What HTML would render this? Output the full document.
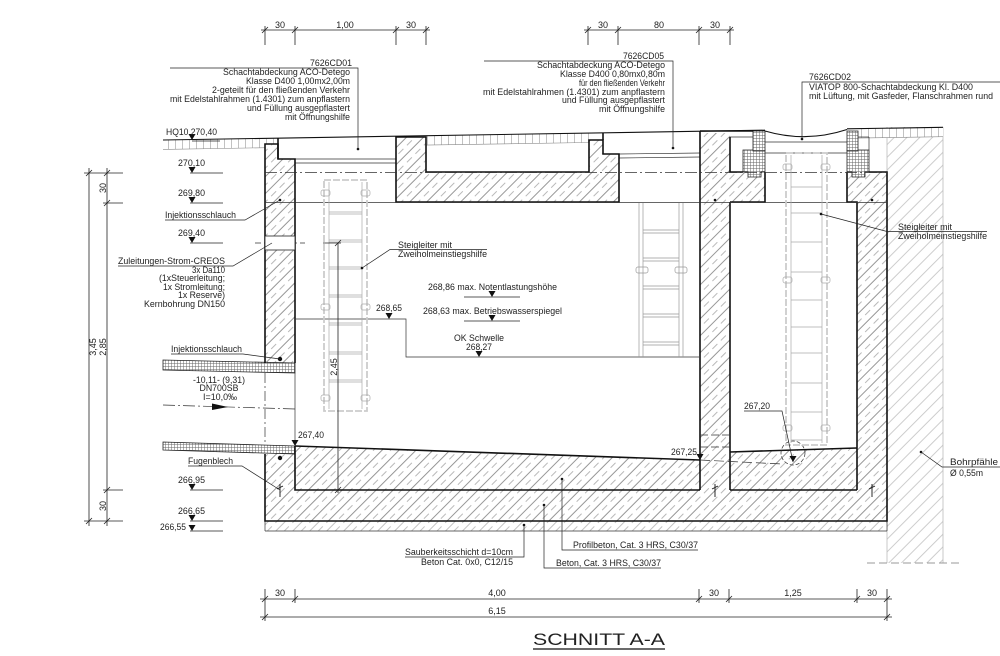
<!DOCTYPE html>
<html><head><meta charset="utf-8"><title>Schnitt A-A</title>
<style>
html,body{margin:0;padding:0;background:#fff;}
svg{display:block;}
text{font-family:"Liberation Sans",Arial,sans-serif;font-size:8.8px;fill:#222;}
.d{font-size:9px;}
</style></head><body>
<svg width="1000" height="656" viewBox="0 0 1000 656" xmlns="http://www.w3.org/2000/svg">
<defs>
<pattern id="hc" width="12" height="12" patternUnits="userSpaceOnUse" patternTransform="rotate(45)">
<rect width="12" height="12" fill="#fff"/>
<line x1="0.5" y1="0" x2="0.5" y2="12" stroke="#6a6a6a" stroke-width="0.7"/>
<line x1="6.5" y1="0" x2="6.5" y2="12" stroke="#8a8a8a" stroke-width="0.6" stroke-dasharray="7,5"/>
</pattern>
<pattern id="hl" width="12" height="12" patternUnits="userSpaceOnUse" patternTransform="rotate(45)">
<rect width="12" height="12" fill="#fff"/>
<line x1="0.5" y1="0" x2="0.5" y2="12" stroke="#9a9a9a" stroke-width="0.6" stroke-dasharray="7,5"/>
<line x1="6.5" y1="0" x2="6.5" y2="12" stroke="#9a9a9a" stroke-width="0.6"/>
</pattern>
<pattern id="hp" width="9" height="9" patternUnits="userSpaceOnUse" patternTransform="rotate(45)">
<rect width="9" height="9" fill="#fff"/>
<line x1="0.5" y1="0" x2="0.5" y2="9" stroke="#b8b8b8" stroke-width="0.7"/>
</pattern>
<pattern id="hx" width="3" height="3" patternUnits="userSpaceOnUse">
<rect width="3" height="3" fill="#fff"/>
<line x1="0.25" y1="0" x2="0.25" y2="3" stroke="#666" stroke-width="0.5"/>
<line x1="0" y1="0.25" x2="3" y2="0.25" stroke="#666" stroke-width="0.5"/>
</pattern>
<pattern id="pv" width="7" height="30" patternUnits="userSpaceOnUse">
<rect width="7" height="30" fill="#fff"/>
<line x1="0.5" y1="0" x2="0.5" y2="30" stroke="#9a9a9a" stroke-width="0.6"/>
</pattern>
</defs>
<rect width="1000" height="656" fill="#fff"/>

<!-- Bohrpfaehle -->
<rect x="887" y="127" width="56" height="436" fill="url(#hp)"/>
<line x1="887" y1="127" x2="887" y2="563" stroke="#bbb" stroke-width="0.8"/>
<line x1="943" y1="127" x2="943" y2="563" stroke="#bbb" stroke-width="0.8"/>
<line x1="867" y1="563" x2="963" y2="563" stroke="#999" stroke-width="0.9" stroke-dasharray="8,4"/>

<!-- paving bands -->
<polygon points="163,140 278,138.1 278,147.5 163,149.4" fill="url(#pv)"/>
<polygon points="426,135.7 589,133.1 589,142.5 426,145.1" fill="url(#pv)"/>
<polygon points="858,128.7 943,127.3 943,136.7 858,138.1" fill="url(#pv)"/>
<g stroke="#888" stroke-width="0.6" fill="none">
<line x1="163" y1="149.4" x2="278" y2="147.5"/>
<line x1="426" y1="145.1" x2="589" y2="142.5"/>
<line x1="858" y1="138.1" x2="943" y2="136.7"/>
</g>

<!-- concrete -->
<g fill="url(#hc)">
<polygon points="265,144 278,144 278,159 295,159 295,363 265,363"/>
<polygon points="265,446 295,446 700,460 700,521 265,521"/>
<polygon points="700,133 730,133 730,521 700,521"/>
<polygon points="730,452 857,448 857,521 730,521"/>
<polygon points="857,172 887,172 887,521 857,521"/>
<polygon points="730,172 765,172 765,202 730,202"/>
<polygon points="847,172 857,172 857,202 847,202"/>
<polygon points="396,137 426,137 426,172 589,172 589,140 603,140 603,154 619,154 619,202 396,202"/>
</g>
<rect x="265" y="521" width="622" height="10" fill="url(#hl)"/>

<!-- crosshatch frames & pipe -->
<g fill="url(#hx)" stroke="#222" stroke-width="0.8">
<polygon points="743,150 765,150 765,172 761,172 761,177 748,177 748,172 743,172"/>
<polygon points="753,131 765,131 765,151 753,151"/>
<polygon points="847,150 869,150 869,172 865,172 865,177 852,177 852,172 847,172"/>
<polygon points="847,131 858,131 858,151 847,151"/>
<polygon points="163,360 295,363 295,373 163,370"/>
<polygon points="163,442 295,446 295,454 163,450"/>
</g>

<!-- ground line & covers -->
<g stroke="#111" stroke-width="1.1" fill="none">
<polyline points="163,140 765,130.2"/>
<path d="M765,131 Q806,143 847,129.5"/>
<polyline points="847,128.8 943,127.3"/>
</g>
<g stroke="#333" stroke-width="0.7" fill="none">
<line x1="278" y1="159" x2="396" y2="159"/>
<line x1="295" y1="163" x2="396" y2="163"/>
<line x1="619" y1="154" x2="700" y2="153"/>
<line x1="619" y1="158" x2="700" y2="157"/>
<line x1="765" y1="142" x2="847" y2="142"/>
<line x1="765" y1="153" x2="847" y2="153"/>
<line x1="730" y1="137" x2="753" y2="137"/>
<line x1="858" y1="137" x2="869" y2="137"/>
<line x1="869" y1="137" x2="869" y2="150"/>
<line x1="265" y1="521" x2="265" y2="531"/>
<line x1="265" y1="531" x2="887" y2="531"/>
<line x1="887" y1="521" x2="887" y2="531"/>
<line x1="295" y1="373" x2="295" y2="442"/>
</g>

<!-- thick outlines -->
<g stroke="#111" stroke-width="1.6" fill="none" stroke-linejoin="miter">
<polyline points="265,363 265,144 278,144 278,159 295,159 295,363"/>
<polyline points="278,138 278,159"/>
<polyline points="265,454 265,521 887,521 887,172 869,172"/>
<line x1="295" y1="446" x2="700" y2="460"/>
<polyline points="295,446 295,490 700,490"/>
<line x1="730" y1="490" x2="857" y2="490"/>
<polyline points="700,131 700,490"/>
<polyline points="730,137 730,172 743,172"/>
<polyline points="730,202 730,490"/>
<line x1="730" y1="452" x2="857" y2="448"/>
<polyline points="730,202 765,202 765,172"/>
<polyline points="847,172 847,202 857,202 857,490"/>
<polygon points="396,137 426,137 426,172 589,172 589,140 603,140 603,154 619,154 619,202 396,202"/>
<line x1="603" y1="133" x2="603" y2="140"/>
<line x1="700" y1="131" x2="753" y2="131"/>
</g>

<!-- reference lines -->
<g stroke="#333" stroke-width="0.7" fill="none">
<line x1="265" y1="172.5" x2="887" y2="172.5" stroke-dasharray="12,3,2,3"/>
<line x1="265" y1="202.5" x2="887" y2="202.5"/>
<line x1="265" y1="373" x2="265" y2="442" stroke-dasharray="10,3,2,3"/>
<line x1="163" y1="405" x2="295" y2="409" stroke-dasharray="12,3,2,3"/>
<line x1="255" y1="243" x2="305" y2="243" stroke-dasharray="6,3"/>
<polyline points="295,319 406,319 406,357 699,357"/>
<line x1="700" y1="435" x2="730" y2="435" stroke-dasharray="8,3"/>
<line x1="700" y1="447" x2="730" y2="447" stroke-dasharray="8,3"/>
<line x1="700" y1="460" x2="782" y2="464" stroke-dasharray="10,4"/>
<circle cx="793" cy="453" r="12" stroke-dasharray="4,2"/>
</g>
<rect x="265" y="236" width="30" height="14" fill="#fff" stroke="#222" stroke-width="0.8"/>
<polygon points="212,403.5 228,407 212,410" fill="#111"/>

<!-- ladders -->
<g fill="none">
<rect x="324" y="180" width="43" height="231" stroke="#ccc" stroke-width="1.8" stroke-dasharray="7,2"/>
<g stroke="#aaa" stroke-width="0.7">
<line x1="329" y1="182" x2="329" y2="409"/><line x1="362" y1="182" x2="362" y2="409"/>
<line x1="329" y1="212" x2="362" y2="212"/><line x1="329" y1="214" x2="362" y2="214"/>
<line x1="329" y1="240" x2="362" y2="240"/><line x1="329" y1="242" x2="362" y2="242"/>
<line x1="329" y1="267" x2="362" y2="267"/><line x1="329" y1="269" x2="362" y2="269"/>
<line x1="329" y1="295" x2="362" y2="295"/><line x1="329" y1="297" x2="362" y2="297"/>
<line x1="329" y1="323" x2="362" y2="323"/><line x1="329" y1="325" x2="362" y2="325"/>
<line x1="329" y1="352" x2="362" y2="352"/><line x1="329" y1="354" x2="362" y2="354"/>
<line x1="329" y1="380" x2="362" y2="380"/><line x1="329" y1="382" x2="362" y2="382"/>
<rect x="321" y="190" width="9" height="6" rx="2"/><rect x="361" y="190" width="9" height="6" rx="2"/>
<rect x="321" y="304" width="9" height="6" rx="2"/><rect x="361" y="304" width="9" height="6" rx="2"/>
<rect x="321" y="395" width="9" height="6" rx="2"/><rect x="361" y="395" width="9" height="6" rx="2"/>
</g>
<rect x="786" y="153" width="41" height="292" stroke="#ccc" stroke-width="1.8" stroke-dasharray="7,2"/>
<g stroke="#aaa" stroke-width="0.7">
<line x1="791" y1="155" x2="791" y2="443"/><line x1="822" y1="155" x2="822" y2="443"/>
<line x1="791" y1="187" x2="822" y2="187"/><line x1="791" y1="213" x2="822" y2="213"/>
<line x1="791" y1="242" x2="822" y2="242"/><line x1="791" y1="272" x2="822" y2="272"/>
<line x1="791" y1="300" x2="822" y2="300"/><line x1="791" y1="327" x2="822" y2="327"/>
<line x1="791" y1="353" x2="822" y2="353"/><line x1="791" y1="383" x2="822" y2="383"/>
<line x1="791" y1="412" x2="822" y2="412"/><line x1="791" y1="440" x2="822" y2="440"/>
<rect x="783" y="164" width="9" height="6" rx="2"/><rect x="821" y="164" width="9" height="6" rx="2"/>
<rect x="783" y="277" width="9" height="6" rx="2"/><rect x="821" y="277" width="9" height="6" rx="2"/>
<rect x="783" y="425" width="9" height="6" rx="2"/><rect x="821" y="425" width="9" height="6" rx="2"/>
</g>
<g stroke="#999" stroke-width="0.7">
<line x1="639" y1="203" x2="639" y2="357"/><line x1="643" y1="203" x2="643" y2="357"/>
<line x1="679" y1="203" x2="679" y2="357"/><line x1="683" y1="203" x2="683" y2="357"/>
<line x1="643" y1="230" x2="679" y2="230"/><line x1="643" y1="233" x2="679" y2="233"/>
<line x1="643" y1="258" x2="679" y2="258"/><line x1="643" y1="261" x2="679" y2="261"/>
<line x1="643" y1="286" x2="679" y2="286"/><line x1="643" y1="289" x2="679" y2="289"/>
<line x1="643" y1="314" x2="679" y2="314"/><line x1="643" y1="317" x2="679" y2="317"/>
<line x1="643" y1="342" x2="679" y2="342"/><line x1="643" y1="345" x2="679" y2="345"/>
<rect x="636" y="267" width="12" height="6" rx="2"/><rect x="675" y="267" width="12" height="6" rx="2"/>
</g>
</g>

<!-- 2,45 dim -->
<g stroke="#222" stroke-width="0.8">
<line x1="338" y1="243" x2="338" y2="493"/>
<line x1="323" y1="243" x2="341" y2="243"/>
<line x1="335" y1="246" x2="341" y2="240"/>
<line x1="335" y1="493" x2="341" y2="487"/>
</g>
<text class="d" transform="rotate(-90 337 367)" x="337" y="367" text-anchor="middle">2,45</text>

<!-- dots -->
<g fill="#111">
<circle cx="280" cy="200" r="1.3"/><circle cx="715" cy="200" r="1.3"/><circle cx="872" cy="200" r="1.3"/>
<circle cx="280" cy="359" r="2.2"/><circle cx="280" cy="458" r="2.2"/>
<circle cx="358" cy="149" r="1.3"/><circle cx="673" cy="148" r="1.3"/><circle cx="802" cy="139" r="1.3"/>
<circle cx="362" cy="268" r="1.3"/><circle cx="821" cy="214" r="1.3"/><circle cx="921" cy="452" r="1.3"/>
<circle cx="562" cy="479" r="1.3"/><circle cx="544" cy="505" r="1.3"/><circle cx="524" cy="525" r="1.3"/>
</g>
<!-- Fugenblech symbols -->
<g stroke="#111" stroke-width="0.9">
<line x1="280" y1="484" x2="280" y2="497"/><line x1="277" y1="489" x2="283" y2="486"/>
<line x1="715" y1="484" x2="715" y2="497"/><line x1="712" y1="489" x2="718" y2="486"/>
<line x1="872" y1="484" x2="872" y2="497"/><line x1="869" y1="489" x2="875" y2="486"/>
</g>

<!-- leaders -->
<g stroke="#222" stroke-width="0.7" fill="none">
<polyline points="170,68 358,68 358,149"/>
<polyline points="484,61 673,61 673,148"/>
<polyline points="1000,82 802,82 802,139"/>
<polyline points="165,220 245,220 280,200"/>
<polyline points="118,266 233,266 272,243"/>
<polyline points="171,354 243,354 280,359"/>
<polyline points="188,466 242,466 280,490"/>
<polyline points="487,249.5 390,249.5 362,268"/>
<polyline points="987,231.5 887,231.5 821,214"/>
<polyline points="744,411 782,411 793,462"/>
<polyline points="1000,467 942,467 921,452"/>
<polyline points="698,550 562,550 562,479"/>
<polyline points="661,568 544,568 544,505"/>
<polyline points="405,557 524,557 524,525"/>
</g>

<!-- level lines -->
<g stroke="#222" stroke-width="0.8">
<line x1="84" y1="173" x2="123" y2="173"/>
<line x1="103" y1="203" x2="123" y2="203"/>
<line x1="103" y1="490" x2="123" y2="490"/>
<line x1="84" y1="521" x2="123" y2="521"/>
<line x1="190" y1="173" x2="223" y2="173"/>
<line x1="190" y1="203" x2="223" y2="203"/>
<line x1="190" y1="243" x2="223" y2="243"/>
<line x1="190" y1="490" x2="223" y2="490"/>
<line x1="190" y1="521" x2="223" y2="521"/>
<line x1="190" y1="531" x2="223" y2="531"/>
<line x1="192" y1="141" x2="220" y2="141"/>
<line x1="464" y1="297" x2="520" y2="297"/>
<line x1="464" y1="321" x2="520" y2="321"/>
</g>
<g fill="#111">
<polygon points="188.5,134 195.5,134 192,140"/>
<polygon points="188.5,167 195.5,167 192,173"/>
<polygon points="188.5,197 195.5,197 192,203"/>
<polygon points="188.5,237 195.5,237 192,243"/>
<polygon points="188.5,484 195.5,484 192,490"/>
<polygon points="188.5,515 195.5,515 192,521"/>
<polygon points="188.5,525 195.5,525 192,531"/>
<polygon points="385.5,313 392.5,313 389,319"/>
<polygon points="488.5,291 495.5,291 492,297"/>
<polygon points="488.5,315 495.5,315 492,321"/>
<polygon points="475.5,351 482.5,351 479,357"/>
<polygon points="291.5,440 298.5,440 295,446"/>
<polygon points="696.5,454 703.5,454 700,460"/>
<polygon points="789.5,456 796.5,456 793,462"/>
</g>

<!-- dimensions -->
<g stroke="#222" stroke-width="0.8">
<line x1="261" y1="30" x2="430" y2="30"/>
<line x1="265" y1="26" x2="265" y2="45"/><line x1="295" y1="26" x2="295" y2="45"/>
<line x1="396" y1="26" x2="396" y2="45"/><line x1="426" y1="26" x2="426" y2="45"/>
<line x1="262" y1="33" x2="268" y2="27"/><line x1="292" y1="33" x2="298" y2="27"/>
<line x1="393" y1="33" x2="399" y2="27"/><line x1="423" y1="33" x2="429" y2="27"/>
<line x1="584" y1="30" x2="734" y2="30"/>
<line x1="588" y1="26" x2="588" y2="45"/><line x1="618" y1="26" x2="618" y2="45"/>
<line x1="699" y1="26" x2="699" y2="45"/><line x1="730" y1="26" x2="730" y2="45"/>
<line x1="585" y1="33" x2="591" y2="27"/><line x1="615" y1="33" x2="621" y2="27"/>
<line x1="696" y1="33" x2="702" y2="27"/><line x1="727" y1="33" x2="733" y2="27"/>
<line x1="89" y1="168" x2="89" y2="526"/><line x1="107" y1="168" x2="107" y2="526"/>
<line x1="86" y1="176" x2="92" y2="170"/><line x1="86" y1="524" x2="92" y2="518"/>
<line x1="104" y1="176" x2="110" y2="170"/><line x1="104" y1="206" x2="110" y2="200"/>
<line x1="104" y1="493" x2="110" y2="487"/><line x1="104" y1="524" x2="110" y2="518"/>
<line x1="260" y1="599" x2="892" y2="599"/>
<line x1="260" y1="617" x2="892" y2="617"/>
<line x1="265" y1="589" x2="265" y2="621"/><line x1="295" y1="589" x2="295" y2="603"/>
<line x1="699" y1="589" x2="699" y2="603"/><line x1="729" y1="589" x2="729" y2="603"/>
<line x1="857" y1="589" x2="857" y2="603"/><line x1="887" y1="589" x2="887" y2="621"/>
<line x1="262" y1="602" x2="268" y2="596"/><line x1="292" y1="602" x2="298" y2="596"/>
<line x1="696" y1="602" x2="702" y2="596"/><line x1="726" y1="602" x2="732" y2="596"/>
<line x1="854" y1="602" x2="860" y2="596"/><line x1="884" y1="602" x2="890" y2="596"/>
<line x1="262" y1="620" x2="268" y2="614"/><line x1="884" y1="620" x2="890" y2="614"/>
</g>
<g class="d" text-anchor="middle">
<text class="d" x="280" y="28">30</text><text class="d" x="345" y="28">1,00</text><text class="d" x="411" y="28">30</text>
<text class="d" x="603" y="28">30</text><text class="d" x="659" y="28">80</text><text class="d" x="715" y="28">30</text>
<text class="d" x="280" y="596">30</text><text class="d" x="497" y="596">4,00</text><text class="d" x="714" y="596">30</text>
<text class="d" x="793" y="596">1,25</text><text class="d" x="872" y="596">30</text><text class="d" x="497" y="614">6,15</text>
</g>
<text class="d" transform="rotate(-90 106 188)" x="106" y="188" text-anchor="middle">30</text>
<text class="d" transform="rotate(-90 96 347)" x="96" y="347" text-anchor="middle">3,45</text>
<text class="d" transform="rotate(-90 106 347)" x="106" y="347" text-anchor="middle">2,85</text>
<text class="d" transform="rotate(-90 106 506)" x="106" y="506" text-anchor="middle">30</text>

<!-- CD01 -->
<g text-anchor="end">
<text x="352" y="66" textLength="42" lengthAdjust="spacingAndGlyphs">7626CD01</text>
<text x="350" y="75" textLength="127" lengthAdjust="spacingAndGlyphs">Schachtabdeckung ACO-Detego</text>
<text x="350" y="84" textLength="104" lengthAdjust="spacingAndGlyphs">Klasse D400 1,00mx2,00m</text>
<text x="350" y="93" textLength="138" lengthAdjust="spacingAndGlyphs">2-geteilt für den fließenden Verkehr</text>
<text x="350" y="102" textLength="180" lengthAdjust="spacingAndGlyphs">mit Edelstahlrahmen (1.4301) zum anpflastern</text>
<text x="350" y="111" textLength="103" lengthAdjust="spacingAndGlyphs">und Füllung ausgepflastert</text>
<text x="350" y="120" textLength="65" lengthAdjust="spacingAndGlyphs">mit Öffnungshilfe</text>
<!-- CD05 -->
<text x="664" y="59" textLength="41" lengthAdjust="spacingAndGlyphs">7626CD05</text>
<text x="665" y="68" textLength="128" lengthAdjust="spacingAndGlyphs">Schachtabdeckung ACO-Detego</text>
<text x="665" y="77" textLength="105" lengthAdjust="spacingAndGlyphs">Klasse D400 0,80mx0,80m</text>
<text x="665" y="86" textLength="86" lengthAdjust="spacingAndGlyphs">für den fließenden Verkehr</text>
<text x="665" y="95" textLength="182" lengthAdjust="spacingAndGlyphs">mit Edelstahlrahmen (1.4301) zum anpflastern</text>
<text x="665" y="103" textLength="103" lengthAdjust="spacingAndGlyphs">und Füllung ausgepflastert</text>
<text x="665" y="112" textLength="66" lengthAdjust="spacingAndGlyphs">mit Öffnungshilfe</text>
<!-- left cable text -->
<text x="225" y="273" textLength="33" lengthAdjust="spacingAndGlyphs">3x Da110</text>
<text x="225" y="281" textLength="66" lengthAdjust="spacingAndGlyphs">(1xSteuerleitung;</text>
<text x="225" y="290" textLength="62" lengthAdjust="spacingAndGlyphs">1x Stromleitung;</text>
<text x="225" y="298" textLength="47" lengthAdjust="spacingAndGlyphs">1x Reserve)</text>
<text x="225" y="307" textLength="81" lengthAdjust="spacingAndGlyphs">Kernbohrung DN150</text>
<text x="513" y="565" textLength="92" lengthAdjust="spacingAndGlyphs">Beton Cat. 0x0, C12/15</text>
</g>
<!-- CD02 -->
<text x="809" y="80" textLength="42" lengthAdjust="spacingAndGlyphs">7626CD02</text>
<text x="809" y="90" textLength="164" lengthAdjust="spacingAndGlyphs">VIATOP 800-Schachtabdeckung Kl. D400</text>
<text x="809" y="99" textLength="184" lengthAdjust="spacingAndGlyphs">mit Lüftung, mit Gasfeder, Flanschrahmen rund</text>

<!-- levels left -->
<text x="166" y="135" textLength="51" lengthAdjust="spacingAndGlyphs">HQ10 270,40</text>
<text x="178" y="166" textLength="27" lengthAdjust="spacingAndGlyphs">270,10</text>
<text x="178" y="196" textLength="27" lengthAdjust="spacingAndGlyphs">269,80</text>
<text x="178" y="236" textLength="27" lengthAdjust="spacingAndGlyphs">269,40</text>
<text x="178" y="483" textLength="27" lengthAdjust="spacingAndGlyphs">266,95</text>
<text x="178" y="514" textLength="27" lengthAdjust="spacingAndGlyphs">266,65</text>
<text x="160" y="530" textLength="26" lengthAdjust="spacingAndGlyphs">266,55</text>
<text x="165" y="218" textLength="71" lengthAdjust="spacingAndGlyphs">Injektionsschlauch</text>
<text x="118" y="264" textLength="107" lengthAdjust="spacingAndGlyphs">Zuleitungen-Strom-CREOS</text>
<text x="171" y="352" textLength="71" lengthAdjust="spacingAndGlyphs">Injektionsschlauch</text>
<text x="219" y="383" text-anchor="middle" textLength="52" lengthAdjust="spacingAndGlyphs">-10,11- (9,31)</text>
<text x="219" y="391" text-anchor="middle" textLength="39" lengthAdjust="spacingAndGlyphs">DN700SB</text>
<text x="220" y="400" text-anchor="middle" textLength="34" lengthAdjust="spacingAndGlyphs">I=10,0‰</text>
<text x="298" y="438" textLength="26" lengthAdjust="spacingAndGlyphs">267,40</text>
<text x="188" y="464" textLength="45" lengthAdjust="spacingAndGlyphs">Fugenblech</text>

<!-- center -->
<text x="398" y="248" textLength="54" lengthAdjust="spacingAndGlyphs">Steigleiter mit</text>
<text x="398" y="257" textLength="89" lengthAdjust="spacingAndGlyphs">Zweiholmeinstiegshilfe</text>
<text x="376" y="311" textLength="26" lengthAdjust="spacingAndGlyphs">268,65</text>
<text x="428" y="290" textLength="129" lengthAdjust="spacingAndGlyphs">268,86 max. Notentlastungshöhe</text>
<text x="423" y="314" textLength="139" lengthAdjust="spacingAndGlyphs">268,63 max. Betriebswasserspiegel</text>
<text x="454" y="341" textLength="50" lengthAdjust="spacingAndGlyphs">OK Schwelle</text>
<text x="466" y="350" textLength="26" lengthAdjust="spacingAndGlyphs">268,27</text>
<text x="671" y="455" textLength="26" lengthAdjust="spacingAndGlyphs">267,25</text>
<text x="744" y="409" textLength="26" lengthAdjust="spacingAndGlyphs">267,20</text>

<!-- right -->
<text x="898" y="230" textLength="54" lengthAdjust="spacingAndGlyphs">Steigleiter mit</text>
<text x="898" y="239" textLength="89" lengthAdjust="spacingAndGlyphs">Zweiholmeinstiegshilfe</text>
<text x="950" y="465" textLength="48" lengthAdjust="spacingAndGlyphs">Bohrpfähle</text>
<text x="950" y="476" textLength="33" lengthAdjust="spacingAndGlyphs">Ø 0,55m</text>

<!-- bottom leaders text -->
<text x="573" y="548" textLength="125" lengthAdjust="spacingAndGlyphs">Profilbeton, Cat. 3 HRS, C30/37</text>
<text x="556" y="566" textLength="105" lengthAdjust="spacingAndGlyphs">Beton, Cat. 3 HRS, C30/37</text>
<text x="405" y="555" textLength="108" lengthAdjust="spacingAndGlyphs">Sauberkeitsschicht d=10cm</text>

<!-- title -->
<text x="533" y="645" style="font-size:17px" textLength="132" lengthAdjust="spacingAndGlyphs">SCHNITT A-A</text>
<line x1="533" y1="649" x2="665" y2="649" stroke="#111" stroke-width="1.2"/>
</svg>
</body></html>
